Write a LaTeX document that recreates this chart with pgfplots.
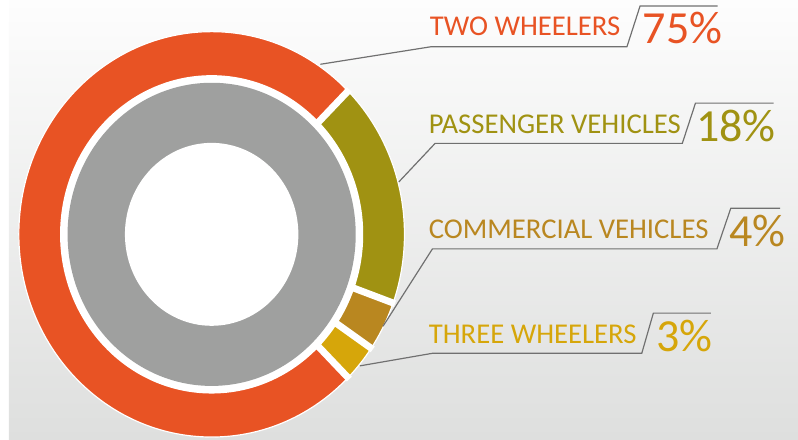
\documentclass[border=0pt]{standalone}
\usepackage{fontspec}
\setmainfont{Carlito}
\usepackage{pgfplots}
\usepackage{pgfplotstable}
\pgfplotsset{compat=1.18}

\definecolor{seg0}{RGB}{160,146,18}   % passenger vehicles
\definecolor{seg1}{RGB}{185,135,32}   % commercial vehicles
\definecolor{seg2}{RGB}{214,166,10}   % three wheelers
\definecolor{seg3}{RGB}{232,83,36}    % two wheelers
\definecolor{ringgrey}{RGB}{159,160,159}
\definecolor{leader}{RGB}{112,112,112}
\definecolor{bgtop}{RGB}{253,253,253}
\definecolor{bgbot}{RGB}{222,223,222}

\begin{document}
% shares, clockwise from 45 degrees
\pgfplotstableread{
name       value
Passenger  18
Commercial 4
Three      3
Two        75
}\sharetable

% cumulative angles of each wedge
\xdef\cumang{45}
\pgfplotstableforeachcolumnelement{value}\of\sharetable\as\val{%
  \expandafter\xdef\csname angS\pgfplotstablerow\endcsname{\cumang}%
  \pgfmathparse{\cumang-3.6*\val}\xdef\cumang{\pgfmathresult}%
  \expandafter\xdef\csname angE\pgfplotstablerow\endcsname{\cumang}%
}

\def\cx{205}\def\cy{207}
\def\rx{195}\def\ry{205}

\begin{tikzpicture}
\shade[top color=bgtop, bottom color=bgbot] (0,0) rectangle (798pt,444pt);
\begin{axis}[
  at={(0,0)}, anchor=south west,
  scale only axis, width=798pt, height=444pt,
  xmin=0, xmax=798, ymin=0, ymax=444,
  hide axis, clip=false,
]
  % outer ring wedges
  \pgfplotsinvokeforeach{0,...,3}{
    \fill[seg#1] (\cx,\cy)
      -- ({\cx+\rx*cos(\csname angS#1\endcsname)},{\cy+\ry*sin(\csname angS#1\endcsname)})
      arc[start angle={\csname angS#1\endcsname}, end angle={\csname angE#1\endcsname},
          x radius=\rx, y radius=\ry] -- cycle;
  }
  % white gaps between wedges
  \pgfplotsinvokeforeach{0,...,3}{
    \draw[white, line width=7pt] (\cx,\cy)
      -- ({\cx+(\rx+2)*cos(\csname angS#1\endcsname)},{\cy+(\ry+2)*sin(\csname angS#1\endcsname)});
  }
  \draw[white, line width=1.2pt] (\cx,\cy) ellipse[x radius=\rx, y radius=\ry];
  % inner grey ring
  \fill[white] (\cx,\cy) ellipse[x radius=153.3, y radius=161];
  \fill[ringgrey] (\cx,\cy) ellipse[x radius=145.7, y radius=153.3];
  \fill[white] (\cx,\cy) ellipse[x radius=87.7, y radius=92.5];

  % leader lines
  \draw[leader, line width=1.2pt] (315,379) -- (426.7,396.7) -- (625,396.7) -- (638.3,438) -- (716.7,438);
  \draw[leader, line width=1.2pt] (394.3,260) -- (431,299) -- (681,299) -- (694.3,339.7) -- (773.3,339.7);
  \draw[leader, line width=1.2pt] (378.3,114) -- (428.3,192.3) -- (716,192.3) -- (730,233.3) -- (780,233.3);
  \draw[leader, line width=1.2pt] (355,74) -- (428.3,86.7) -- (640,86.7) -- (651.7,127.3) -- (710,127.3);

  % labels
  \tikzset{lab/.style={anchor=base west, inner sep=0pt, font=\fontsize{29}{29}\selectfont},
           pct/.style={anchor=base west, inner sep=0pt, font=\fontsize{46.5}{46.5}\selectfont}}
  \node[lab, text=seg3] at (425.5,408.3) {TWO WHEELERS};
  \node[pct, text=seg3] at (641,399.7) {75\%};
  \node[lab, text=seg0] at (424.5,309) {PASSENGER VEHICLES};
  \node[pct, text=seg0] at (695,301.3) {18\%};
  \node[lab, text=seg1] at (424.5,202.3) {COMMERCIAL VEHICLES};
  \node[pct, text=seg1] at (728.5,194.7) {4\%};
  \node[lab, text=seg2] at (424.5,96.7) {THREE WHEELERS};
  \node[pct, text=seg2] at (654.5,89) {3\%};
\end{axis}
\pgfresetboundingbox
\path[use as bounding box] (0,0) rectangle (798pt,444pt);
\end{tikzpicture}
\end{document}
